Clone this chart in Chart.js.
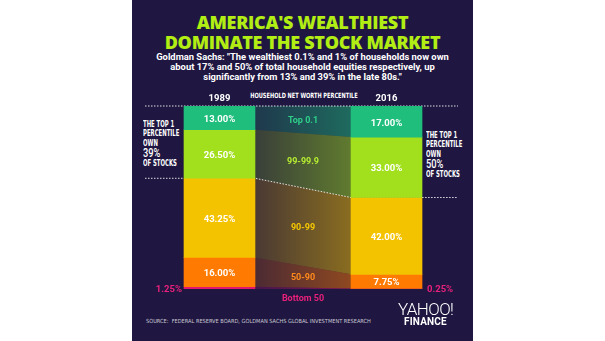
<!DOCTYPE html>
<html>
<head>
<meta charset="utf-8">
<script src="https://cdn.jsdelivr.net/npm/chart.js@4.4.1/dist/chart.umd.min.js"></script>
<style>
  html, body { margin: 0; padding: 0; background: #fff; }
  body { width: 605px; height: 341px; position: relative; overflow: hidden; font-family: Roboto, sans-serif; }
  #panel { position: absolute; left: 132px; top: 0; width: 341px; height: 341px; background: #1f1741; color: #fff; }
  .abs { position: absolute; white-space: nowrap; }
  #title { left: 0; width: 341px; top: 12px; text-align: center; color: #b2ee14; font: 800 18px/20px "Open Sans"; letter-spacing: -0.3px; }
  #sub { left: 0; width: 341px; top: 52px; text-align: center; font: 700 9.4px/10.2px Roboto; }
  .cond { font-family: "DejaVu Sans Condensed", "DejaVu Sans"; font-weight: 700; }
  #head { top: 91px; left: 172px; transform: translateX(-50%) scaleX(0.78); font-size: 7.2px; }
  .note { font-size: 8px; line-height: 9.4px; transform: scaleX(0.74); transform-origin: 0 0; }
  .note b { display: block; font: 500 12.5px/10.5px Roboto; }
  #plot { position: absolute; left: 13px; top: 100px; width: 313px; height: 195px; }
  .lbl { position: absolute; white-space: nowrap; transform: translate(-50%, -50%); font: 700 9.5px Roboto; }
  .grp { font-size: 9px; }
  #src { left: 14px; top: 318px; font-size: 5.6px; color: #c9c7d3; font-weight: 400; }
  #yahoo { left: 266px; top: 301px; font: 300 17px/17px Roboto; letter-spacing: -0.6px; }
  #finance { left: 272px; top: 317px; font: 700 10px/10px Roboto; letter-spacing: 0.2px; }
</style>
</head>
<body>
<div id="panel">
  <div id="title" class="abs">AMERICA'S WEALTHIEST<br>DOMINATE THE STOCK MARKET</div>
  <div id="sub" class="abs">Goldman Sachs: "The wealthiest 0.1% and 1% of households now own<br>about 17% and 50% of total household equities respectively, up<br>significantly from 13% and 39% in the late 80s."</div>
  <div id="head" class="abs cond">HOUSEHOLD NET WORTH PERCENTILE</div>
  <div id="noteL" class="abs cond note" style="left:11px; top:120px;">THE TOP 1<br>PERCENTILE<br>OWN<b></b>OF STOCKS</div>
  <div id="noteR" class="abs cond note" style="left:294px; top:131px;">THE TOP 1<br>PERCENTILE<br>OWN<b></b>OF STOCKS</div>
  <div id="plot"><canvas id="chart"></canvas></div>
  <div id="src" class="abs cond">SOURCE:&nbsp; FEDERAL RESERVE BOARD, GOLDMAN SACHS GLOBAL INVESTMENT RESEARCH</div>
  <div id="yahoo" class="abs">YAHOO!</div>
  <div id="finance" class="abs">FINANCE</div>
</div>
<script>
// datos
const years = ["1989", "2016"];
const groups = ["Top 0.1", "99-99.9", "90-99", "50-90", "Bottom 50"];
const share1989 = [13.0, 26.5, 43.25, 16.0, 1.25];
const share2016 = [17.0, 33.0, 42.0, 7.75, 0.25];
const top1Share = [39, 50];

const groupColors = ["#1fbe7c", "#a2df1d", "#f4c300", "#ff7a00", "#e0166f"];
const textColors = ["#2fcf8a", "#b6ee30", "#f6c800", "#ff8a1c", "#e8207a"];

// eje x: barras centradas en 0 y 1
const X_MIN = -0.446;
const X_MAX = 1.428;
const BAR_HALF = 0.2125;

function stackRanges(shares) {
  const ranges = new Array(shares.length);
  let base = 0;
  for (let i = shares.length - 1; i >= 0; i--) {
    ranges[i] = [base, base + shares[i]];
    base += shares[i];
  }
  return ranges;
}

const r1989 = stackRanges(share1989);
const r2016 = stackRanges(share2016);

function withAlpha(hex, a) {
  const n = parseInt(hex.slice(1), 16);
  return `rgba(${n >> 16},${(n >> 8) & 255},${n & 255},${a})`;
}

function bandFill(color) {
  return (ctx) => {
    const chart = ctx.chart;
    const x = chart.scales.x;
    if (!chart.chartArea || !x) return withAlpha(color, 0.35);
    const g = chart.ctx.createLinearGradient(x.getPixelForValue(BAR_HALF), 0, x.getPixelForValue(1 - BAR_HALF), 0);
    g.addColorStop(0, withAlpha(color, 0.2));
    g.addColorStop(1, withAlpha(color, 0.5));
    return g;
  };
}

const connector = (lo, hi) => [{ x: BAR_HALF, y: lo }, { x: 1 - BAR_HALF, y: hi }];

// =========================
// DATASETS
// =========================
const datasets = [];

// base de las bandas
datasets.push({
  type: "line",
  data: connector(0, 0),
  borderWidth: 0,
  pointRadius: 0,
  fill: false,
  order: 2
});

for (let i = groups.length - 1; i >= 0; i--) {
  datasets.push({
    type: "line",
    label: groups[i],
    data: connector(r1989[i][1], r2016[i][1]),
    borderWidth: 0,
    borderColor: "transparent",
    backgroundColor: bandFill(groupColors[i]),
    pointRadius: 0,
    fill: "-1",
    order: 2
  });
}

// lineas punteadas
const dotted = {
  type: "line",
  borderColor: "rgba(255,255,255,0.85)",
  borderWidth: 1,
  borderDash: [1.5, 1.5],
  pointRadius: 0,
  fill: false,
  clip: false,
  order: 1
};
datasets.push({ ...dotted, data: [{ x: X_MIN, y: 100 }, { x: X_MAX, y: 100 }] });

const top1Lo89 = r1989[1][0];
const top1Lo16 = r2016[1][0];
datasets.push({
  ...dotted,
  data: [
    { x: X_MIN, y: top1Lo89 },
    { x: BAR_HALF, y: top1Lo89 },
    { x: 1 - BAR_HALF, y: top1Lo16 },
    { x: X_MAX, y: top1Lo16 }
  ]
});

const plotEl = document.getElementById("plot");
const barPx = (2 * BAR_HALF * plotEl.clientWidth) / (X_MAX - X_MIN);

groups.forEach((g, i) => {
  datasets.push({
    type: "bar",
    label: g,
    data: years.map((y, j) => ({ x: j, y: j === 0 ? r1989[i] : r2016[i] })),
    backgroundColor: groupColors[i],
    borderWidth: 0,
    grouped: false,
    barThickness: barPx,
    order: 0
  });
});

const chart = new Chart(document.getElementById("chart"), {
  type: "bar",
  data: { datasets },
  options: {
    responsive: true,
    maintainAspectRatio: false,
    animation: false,
    layout: { padding: { top: 6, bottom: 6, left: 0, right: 0 } },
    plugins: { legend: { display: false }, tooltip: { enabled: false } },
    scales: {
      x: { type: "linear", min: X_MIN, max: X_MAX, offset: false, display: false },
      y: { min: 0, max: 100, display: false }
    }
  }
});

// =========================
// ETIQUETAS
// =========================
const xs = chart.scales.x;
const ys = chart.scales.y;

function place(text, x, y, cls, color, shift) {
  const d = document.createElement("div");
  d.className = "lbl " + (cls || "");
  d.textContent = text;
  d.style.left = x + "px";
  d.style.top = y + "px";
  if (color) d.style.color = color;
  if (shift) d.style.transform = shift;
  plotEl.appendChild(d);
}

const last = groups.length - 1;
years.forEach((yr, j) => {
  const shares = j === 0 ? share1989 : share2016;
  const ranges = j === 0 ? r1989 : r2016;
  const cx = xs.getPixelForValue(j);
  place(yr, cx, -3, "", "#fff");
  for (let i = 0; i < last; i++) {
    const mid = (ranges[i][0] + ranges[i][1]) / 2;
    place(shares[i].toFixed(2) + "%", cx, ys.getPixelForValue(mid), "", "#fff");
  }
  const edge = j === 0 ? xs.getPixelForValue(-BAR_HALF) - 2 : xs.getPixelForValue(1 + BAR_HALF) + 5;
  place(shares[last].toFixed(2) + "%", edge, ys.getPixelForValue(0) - 1, "", textColors[last],
    j === 0 ? "translate(-100%, -50%)" : "translate(0, -50%)");
});

groups.forEach((g, i) => {
  const mid = (r1989[i][0] + r1989[i][1] + r2016[i][0] + r2016[i][1]) / 4;
  const y = i === last ? ys.getPixelForValue(0) + 9 : ys.getPixelForValue(mid);
  place(g, xs.getPixelForValue(0.5), y, "grp", textColors[i]);
});

document.querySelector("#noteL b").textContent = top1Share[0] + "%";
document.querySelector("#noteR b").textContent = top1Share[1] + "%";
</script>
</body>
</html>
